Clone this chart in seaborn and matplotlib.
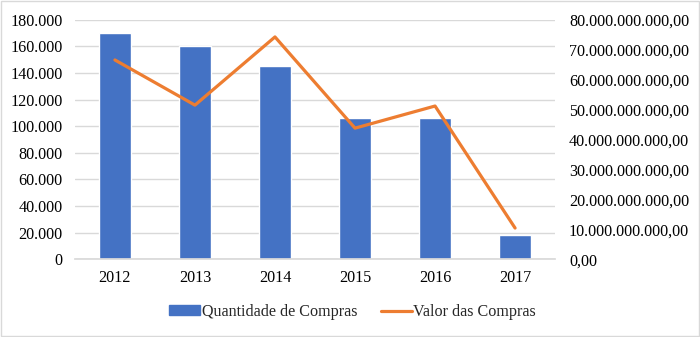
import matplotlib
matplotlib.use("Agg")
import matplotlib.pyplot as plt
import seaborn as sns
import pandas as pd
from matplotlib.ticker import FuncFormatter, MultipleLocator
from matplotlib.patches import Rectangle
from matplotlib.lines import Line2D

years = ["2012", "2013", "2014", "2015", "2016", "2017"]
quantidade = [170000, 160000, 145000, 106000, 106000, 18000]
valor = [66.6e9, 51.5e9, 74.3e9, 43.8e9, 51.2e9, 10.4e9]

df = pd.DataFrame({"Ano": years, "Quantidade de Compras": quantidade, "Valor das Compras": valor})

sns.set_theme(style="white")
plt.rcParams["font.family"] = ["Liberation Serif", "DejaVu Serif"]
fs = 11.6
plt.rcParams["font.size"] = fs

fig = plt.figure(figsize=(7, 3.37), dpi=100)
ax = fig.add_axes([0.107, 0.231, 0.686, 0.71])

blue = "#4472C4"
orange = "#ED7D31"

sns.barplot(data=df, x="Ano", y="Quantidade de Compras", color=blue, width=0.4,
            saturation=1, ax=ax, zorder=2)
ax.set_ylim(0, 180000)
ax.yaxis.set_major_locator(MultipleLocator(20000))
ax.yaxis.set_major_formatter(FuncFormatter(lambda v, p: f"{int(v):,}".replace(",", ".")))
ax.grid(axis="y", color="#D9D9D9", linewidth=1, zorder=0)
ax.set_axisbelow(True)
ax.set_xlabel("")
ax.set_ylabel("")
ax.set_xlim(-0.5, 5.5)

ax2 = ax.twinx()
sns.lineplot(data=df, x="Ano", y="Valor das Compras", color=orange, linewidth=2.3,
             sort=False, ax=ax2)
ax2.set_ylim(0, 80e9)
ax2.yaxis.set_major_locator(MultipleLocator(10e9))
def fmt_val(v, p):
    s = f"{v:,.2f}"
    return s.replace(",", "X").replace(".", ",").replace("X", ".")
ax2.yaxis.set_major_formatter(FuncFormatter(fmt_val))
ax2.set_xlabel("")
ax2.set_ylabel("")
ax2.set_xlim(-0.5, 5.5)

for a in (ax, ax2):
    for s in a.spines.values():
        s.set_visible(False)
    a.tick_params(axis="both", length=0, labelsize=fs, colors="#000000")
ax.spines["bottom"].set_visible(True)
ax.spines["bottom"].set_color("#D9D9D9")
ax.tick_params(axis="x", pad=8)
ax.tick_params(axis="y", pad=9)
ax2.tick_params(axis="y", pad=10)

handles = [Rectangle((0, 0), 1, 1, color=blue), Line2D([0], [0], color=orange, lw=2.3)]
fig.legend(handles, ["Quantidade de Compras", "Valor das Compras"], loc="center",
           bbox_to_anchor=(0.504, 0.075), ncol=2, frameon=False, fontsize=fs,
           handlelength=1.9, handleheight=0.5, handletextpad=0.1, columnspacing=1.5)

fig.add_artist(Rectangle((0.002, 0.003), 0.996, 0.994, transform=fig.transFigure,
                         fill=False, edgecolor="#D9D9D9", linewidth=1))

fig.savefig("out.png", dpi=100)
